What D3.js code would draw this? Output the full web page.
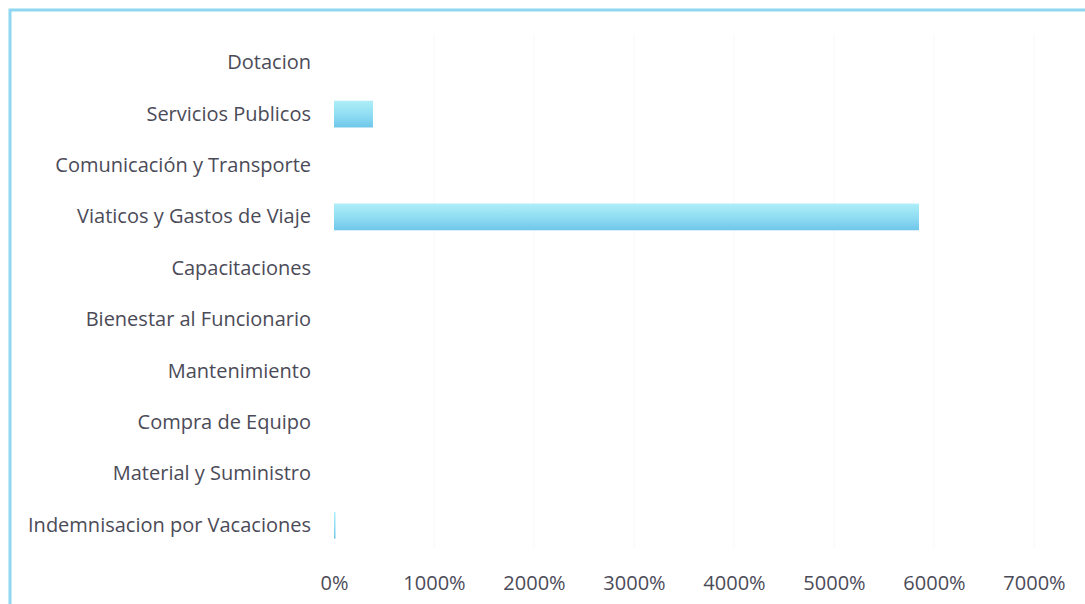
<!DOCTYPE html>
<html><head><meta charset="utf-8">
<script src="https://cdn.jsdelivr.net/npm/d3@7"></script>
<style>body{margin:0;background:#fff;}svg{display:block;}</style>
</head><body>
<script>
const categories = ["Dotacion","Servicios Publicos","Comunicación y Transporte","Viaticos y Gastos de Viaje","Capacitaciones","Bienestar al Funcionario","Mantenimiento","Compra de Equipo","Material y Suministro","Indemnisacion por Vacaciones"];
const values = [0, 390, 0, 5850, 0, 0, 0, 0, 0, 15];
const tickValues = [0,1000,2000,3000,4000,5000,6000,7000];
const tickLabels = ["0%","1000%","2000%","3000%","4000%","5000%","6000%","7000%"];

const W=1085,H=604;
const svg=d3.select("body").append("svg").attr("width",W).attr("height",H);
const defs=svg.append("defs");
const g=defs.append("linearGradient").attr("id","bg").attr("x1",0).attr("y1",0).attr("x2",0).attr("y2",1);
g.append("stop").attr("offset","0%").attr("stop-color","#aeeef8");
g.append("stop").attr("offset","55%").attr("stop-color","#8edcf2");
g.append("stop").attr("offset","100%").attr("stop-color","#6fc6ea");

// frame
svg.append("rect").attr("x",10).attr("y",10).attr("width",W+20).attr("height",H+20)
  .attr("fill","none").attr("stroke","#8fd6f0").attr("stroke-width",3);

const x=d3.scaleLinear().domain([0,7000]).range([334,1034]);
const y=d3.scaleBand().domain(categories).range([37,551]).paddingInner(0.48).paddingOuter(0.24);

// faint gridlines
svg.append("g").selectAll("line").data(tickValues.slice(1)).join("line")
  .attr("x1",d=>x(d)).attr("x2",d=>x(d)).attr("y1",35).attr("y2",548)
  .attr("stroke","#f8f8f8").attr("stroke-width",1);

svg.append("g").selectAll("rect").data(categories).join("rect")
  .attr("x",x(0)).attr("y",d=>y(d)).attr("height",y.bandwidth())
  .attr("width",(d,i)=>Math.max(0,x(values[i])-x(0)))
  .attr("fill","url(#bg)");

const font="'Open Sans', 'Noto Sans', sans-serif";
const yAxis=d3.axisLeft(y).tickSize(0).tickPadding(0);
const ya=svg.append("g").attr("transform",`translate(311,0)`).call(yAxis);
ya.select(".domain").remove();
ya.selectAll("text").attr("font-family",font).attr("font-size",20).attr("fill","#4b4b58").attr("dy","0.32em");

const xAxis=d3.axisBottom(x).tickValues(tickValues).tickFormat((d,i)=>tickLabels[i]).tickSize(0).tickPadding(0);
const xa=svg.append("g").attr("transform",`translate(0,590)`).call(xAxis);
xa.select(".domain").remove();
xa.selectAll("text").attr("font-family",font).attr("font-size",20).attr("fill","#4b4b58").attr("dy","0");
</script>
</body></html>
